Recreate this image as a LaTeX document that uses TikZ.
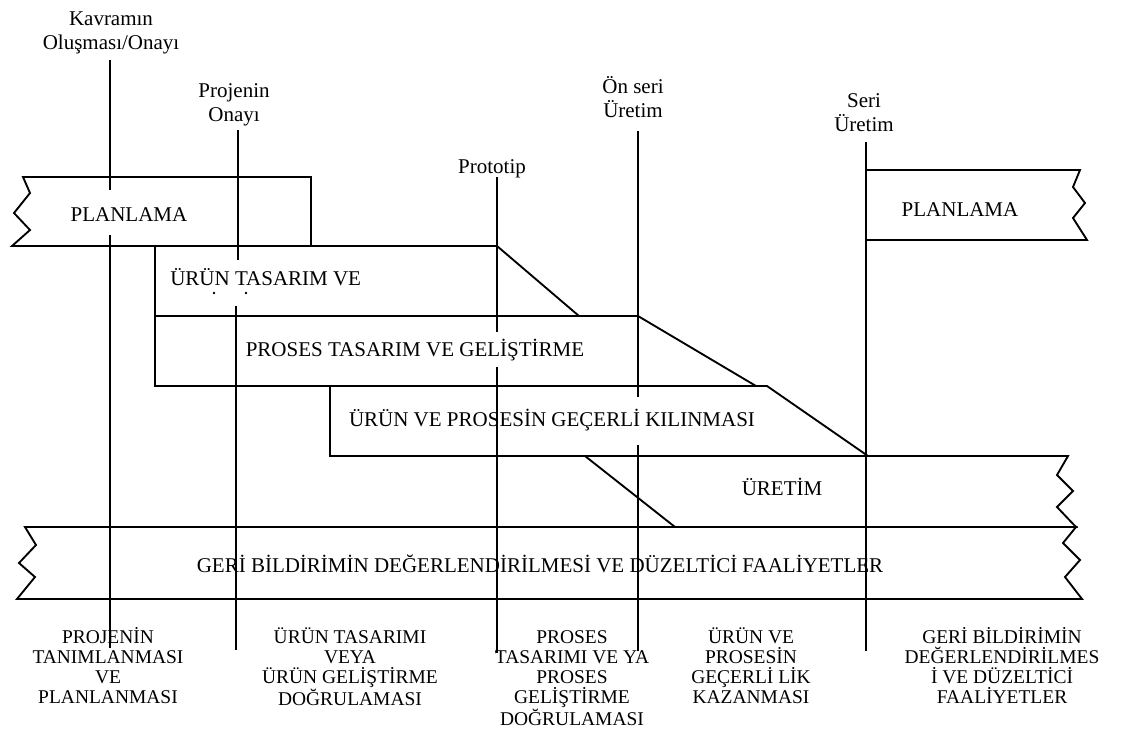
\documentclass[tikz,border=0pt]{standalone}
\usepackage{fontspec}
\setmainfont{Liberation Serif}
% fixed height for the first line of stacked labels
\newcommand{\lnstrut}{\rule{0pt}{16pt}}
\begin{document}
\begin{tikzpicture}[x=0.75pt,y=-0.75pt,
  band/.style={draw=black,line width=1.4pt,line join=miter},
  mile/.style={draw=black,line width=1.4pt},
  bandtext/.style={inner sep=0pt,anchor=base,font=\fontsize{15.75}{18}\selectfont},
  milelabel/.style={inner sep=0pt,anchor=north,align=center,font=\fontsize{15.75}{18}\selectfont},
  phase/.style={inner sep=0pt,anchor=north,align=center,font=\fontsize{14.6}{15}\selectfont}]
\useasboundingbox (0,0) rectangle (1121,733);

% ---- activity bands ----
\draw[band] (23,177) -- (311,177) -- (311,246) -- (12,246) -- (30,230) -- (14,213) -- (30,193) -- cycle;
\draw[band] (155,246) -- (497,246) -- (579,316) -- (155,316) -- cycle;
\draw[band] (155,316) -- (638,316) -- (756,386) -- (155,386) -- cycle;
\draw[band] (330,386) -- (767,386) -- (868,456) -- (330,456) -- cycle;
\draw[band] (585,456) -- (1068,456) -- (1057,475) -- (1073,491) -- (1057,507) -- (1076,527) -- (675,527) -- cycle;
\draw[band] (25,527) -- (1076,527) -- (1063,543) -- (1080,560) -- (1065,577) -- (1082,599) -- (17,599) -- (35,577) -- (19,563) -- (36,545) -- cycle;
\draw[band] (866,170) -- (1080,170) -- (1073,187) -- (1085,203) -- (1073,218) -- (1087,240) -- (866,240) -- cycle;

% ---- band titles ----
\node[bandtext] (plan1) at (129,221) {PLANLAMA};
\node[bandtext] (plan2) at (960,216) {PLANLAMA};
\node[bandtext,anchor=base west] (urun) at (170,285) {ÜRÜN TASARIM VE};
\fill (214,293) circle (1.3);
\fill (246,293) circle (1.3);
\node[bandtext] (proses) at (415,356) {PROSES TASARIM VE GELİŞTİRME};
\node[bandtext] (gecerli) at (552,426) {ÜRÜN VE PROSESİN GEÇERLİ KILINMASI};
\node[bandtext] (uretim) at (782,495) {ÜRETİM};
\node[bandtext] (geri) at (540,572) {GERİ BİLDİRİMİN DEĞERLENDİRİLMESİ VE DÜZELTİCİ FAALİYETLER};

% ---- milestone labels ----
\node[milelabel] (kav) at (111,4) {\lnstrut Kavramın\\Oluşması/Onayı};
\node[milelabel] (proj) at (234,76) {\lnstrut Projenin\\Onayı};
\node[bandtext] (proto) at (492,173) {Prototip};
\node[milelabel] (onseri) at (633,72) {\lnstrut Ön seri\\Üretim};
\node[milelabel] (seri) at (864,86) {\lnstrut Seri\\Üretim};

% ---- milestone lines ----
\coordinate (m1a) at (110,60);  \coordinate (m1b) at (110,190);
\coordinate (m1c) at (110,235); \coordinate (m1d) at (110,648);
\coordinate (m2a) at (238,130); \coordinate (m2b) at (238,260);
\coordinate (m2c) at (236,306); \coordinate (m2d) at (236,650);
\coordinate (m3a) at (497,177); \coordinate (m3b) at (497,332);
\coordinate (m3c) at (497,367); \coordinate (m3d) at (497,653);
\coordinate (m4a) at (638,131); \coordinate (m4b) at (638,397);
\coordinate (m4c) at (638,445); \coordinate (m4d) at (638,651);
\coordinate (m5a) at (866,142); \coordinate (m5d) at (866,651);
\draw[mile] (m1a) -- (m1b) (m1c) -- (m1d);
\draw[mile] (m2a) -- (m2b) (m2c) -- (m2d);
\draw[mile] (m3a) -- (m3b) (m3c) -- (m3d);
\draw[mile] (m4a) -- (m4b) (m4c) -- (m4d);
\draw[mile] (m5a) -- (m5d);

% ---- phase descriptions ----
\def\py{622}
\node[phase] (p1) at (108,\py) {\lnstrut PROJENİN\\TANIMLANMASI\\VE\\PLANLANMASI};
\node[phase] (p2) at (350,\py) {\lnstrut ÜRÜN TASARIMI\\VEYA\\ÜRÜN GELİŞTİRME\\DOĞRULAMASI};
\node[phase] (p3) at (572,\py) {\lnstrut PROSES\\TASARIMI VE YA\\PROSES\\GELİŞTİRME\\DOĞRULAMASI};
\node[phase] (p4) at (751,\py) {\lnstrut ÜRÜN VE\\PROSESİN\\GEÇERLİ LİK\\KAZANMASI};
\node[phase] (p5) at (1002,\py) {\lnstrut GERİ BİLDİRİMİN\\DEĞERLENDİRİLMES\\İ VE DÜZELTİCİ\\FAALİYETLER};
\end{tikzpicture}
\end{document}
